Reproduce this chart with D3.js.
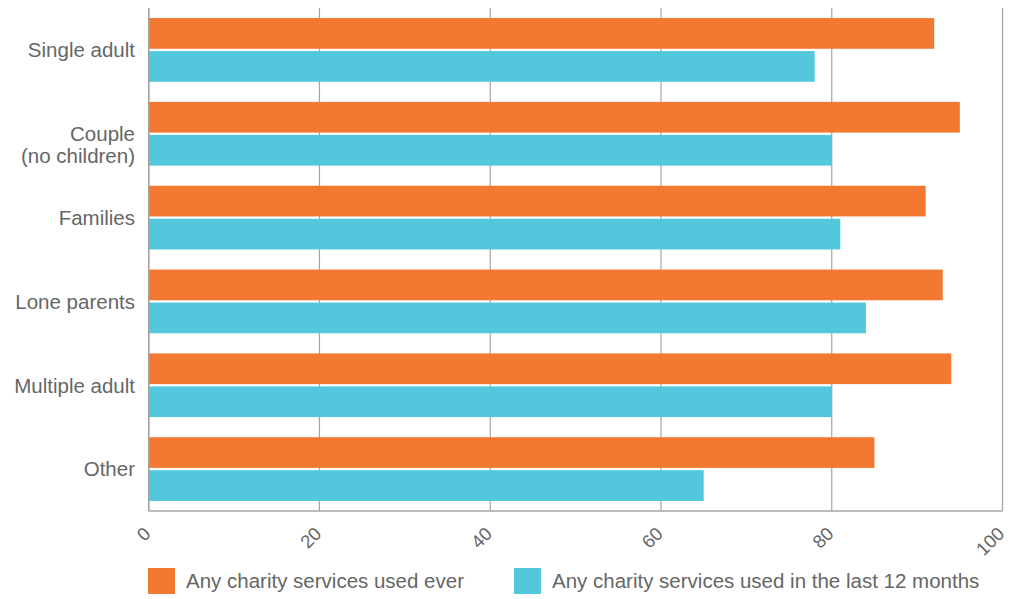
<!DOCTYPE html>
<html><head><meta charset="utf-8">
<script src="https://cdn.jsdelivr.net/npm/d3@7"></script>
<style>
body{margin:0;background:#fff;}
text{font-family:"Liberation Sans",Arial,sans-serif;fill:#666666;}
</style></head>
<body><svg id="c" width="1026" height="599"></svg>
<script>
const categories = [["Single adult"],["Couple","(no children)"],["Families"],["Lone parents"],["Multiple adult"],["Other"]];
const seriesNames = ["Any charity services used ever","Any charity services used in the last 12 months"];
const everValues = [92,95,91,93,94,85];
const last12Values = [78,80,81,84,80,65];
const tickValues = [0,20,40,60,80,100];
const colors = ["#F37832","#53C7DB"];

(function(){
const svg = d3.select("#c");
const mLeft = 148.7, mRight = 1002.5, mTop = 8, mBottom = 511;
const catKeys = categories.map(c=>c.join(" "));
const x = d3.scaleLinear().domain([0,100]).range([mLeft,mRight]);
const y = d3.scaleBand().domain(catKeys).range([mTop,mBottom]).paddingInner(0.24).paddingOuter(0.12);
const y2 = d3.scaleBand().domain([0,1]).range([0,y.bandwidth()]).paddingInner(0.07);

svg.append("g").selectAll("line").data(tickValues).join("line")
  .attr("x1",d=>x(d)).attr("x2",d=>x(d)).attr("y1",mTop).attr("y2",mBottom)
  .attr("stroke","#aaa39d").attr("stroke-width",1.2);
svg.append("line").attr("x1",mLeft).attr("x2",mRight).attr("y1",mBottom).attr("y2",mBottom)
  .attr("stroke","#aaa39d").attr("stroke-width",1.5);

const data = [];
catKeys.forEach((k,i)=>{ data.push({k,s:0,v:everValues[i]}); data.push({k,s:1,v:last12Values[i]}); });
svg.append("g").selectAll("rect").data(data).join("rect")
  .attr("x",x(0)).attr("y",d=>y(d.k)+y2(d.s)).attr("width",d=>x(d.v)-x(0)).attr("height",y2.bandwidth())
  .attr("fill",d=>colors[d.s]);

svg.append("line").attr("x1",mLeft).attr("x2",mLeft).attr("y1",mTop).attr("y2",mBottom)
  .attr("stroke","#aaa39d").attr("stroke-width",1.5);

categories.forEach((c,i)=>{
  const cy = y(catKeys[i]) + y.bandwidth()/2;
  c.forEach((line,j)=>{
    svg.append("text").attr("x",135).attr("y",cy + j*22).attr("dy","0.36em")
      .attr("text-anchor","end").attr("font-size",20.5).text(line);
  });
});

svg.append("g").selectAll("text").data(tickValues).join("text")
  .attr("transform",d=>`translate(${x(d)+3},${535}) rotate(-45)`)
  .attr("text-anchor","end").attr("font-size",18.5).text(d=>d);

const legX = [148, 514];
seriesNames.forEach((n,i)=>{
  svg.append("rect").attr("x",legX[i]).attr("y",568).attr("width",27).attr("height",26).attr("fill",colors[i]);
  svg.append("text").attr("x",legX[i]+38).attr("y",587.5).attr("font-size",20.5).text(n);
});
})();
</script></body></html>
